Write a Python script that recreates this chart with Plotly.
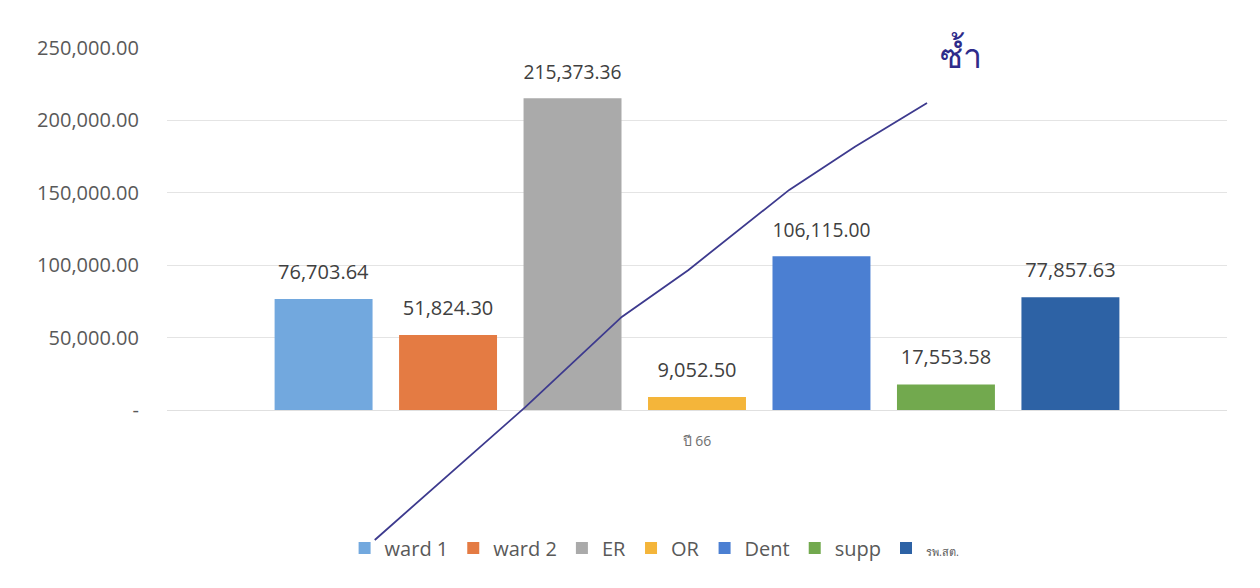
import plotly.graph_objects as go

# ข้อมูล ปี 66
category = ["ปี 66"]
units = ["ward 1", "ward 2", "ER", "OR", "Dent", "supp", "รพ.สต."]
values = [76703.64, 51824.30, 215373.36, 9052.50, 106115.00, 17553.58, 77857.63]
colors = ["#72A8DE", "#E47B43", "#AAAAAA", "#F4B53A", "#4B7FD2", "#72A94E", "#2D62A5"]

tick_vals = [0, 50000, 100000, 150000, 200000, 250000]
tick_text = ["-", "50,000.00", "100,000.00", "150,000.00", "200,000.00", "250,000.00"]

fig = go.Figure()

for name, v, c in zip(units, values, colors):
    legend_name = name
    if name == "รพ.สต.":
        legend_name = "<span style='font-size:11px'>" + name + "</span>"
    # บรรทัดว่างเล็ก ๆ ด้านล่างเพื่อดันป้ายตัวเลขขึ้นจากแท่ง
    label = f"<span style='font-size:20px'>{v:,.2f}</span><br>\u00a0"
    fig.add_trace(go.Bar(
        x=category, y=[v], name=legend_name,
        marker=dict(color=c, line=dict(width=0)),
        text=[label], textposition="outside",
        textfont=dict(size=11, color="#404040"),
        cliponaxis=False,
    ))

# เส้นปากกาที่ขีดทับบนกระดาษ (paper coords)
pen = [(0.196, -0.359), (0.338, 0.008), (0.429, 0.257), (0.492, 0.387),
       (0.587, 0.608), (0.649, 0.727), (0.717, 0.848)]
path = "M " + " L ".join(f"{x},{y}" for x, y in pen)
fig.add_shape(type="path", xref="paper", yref="paper", path=path,
              line=dict(color="#3D3A8E", width=1.8))
fig.add_annotation(x=0.727, y=1.05, xref="paper", yref="paper", text="ซ้ำ",
                   xanchor="left", showarrow=False,
                   font=dict(size=34, color="#2E2B8A"))

fig.update_layout(
    width=1260, height=588,
    margin=dict(l=159, r=41, t=40, b=186),
    paper_bgcolor="white", plot_bgcolor="white",
    font=dict(family="Open Sans, Noto Sans, sans-serif", color="#595959"),
    barmode="group", bargap=0.178, bargroupgap=0.213,
    showlegend=True,
    legend=dict(orientation="h", x=0.46, xanchor="center", y=-0.381, yanchor="middle",
                font=dict(size=20, color="#595959"), itemwidth=30, traceorder="normal",
                bgcolor="rgba(0,0,0,0)"),
)
fig.update_yaxes(range=[0, 250000], tickvals=tick_vals, ticktext=tick_text,
                 tickfont=dict(size=20, color="#595959"), ticks="", ticklen=0,
                 showgrid=True, gridcolor="#E4E4E4", gridwidth=1, zeroline=False,
                 showline=False, automargin=False, ticklabelstandoff=27)
fig.update_xaxes(tickfont=dict(size=14, color="#707070"), showline=True,
                 linecolor="#E0E0E0", showgrid=False, automargin=False,
                 ticklabelstandoff=18)

fig.write_html("out.html")
